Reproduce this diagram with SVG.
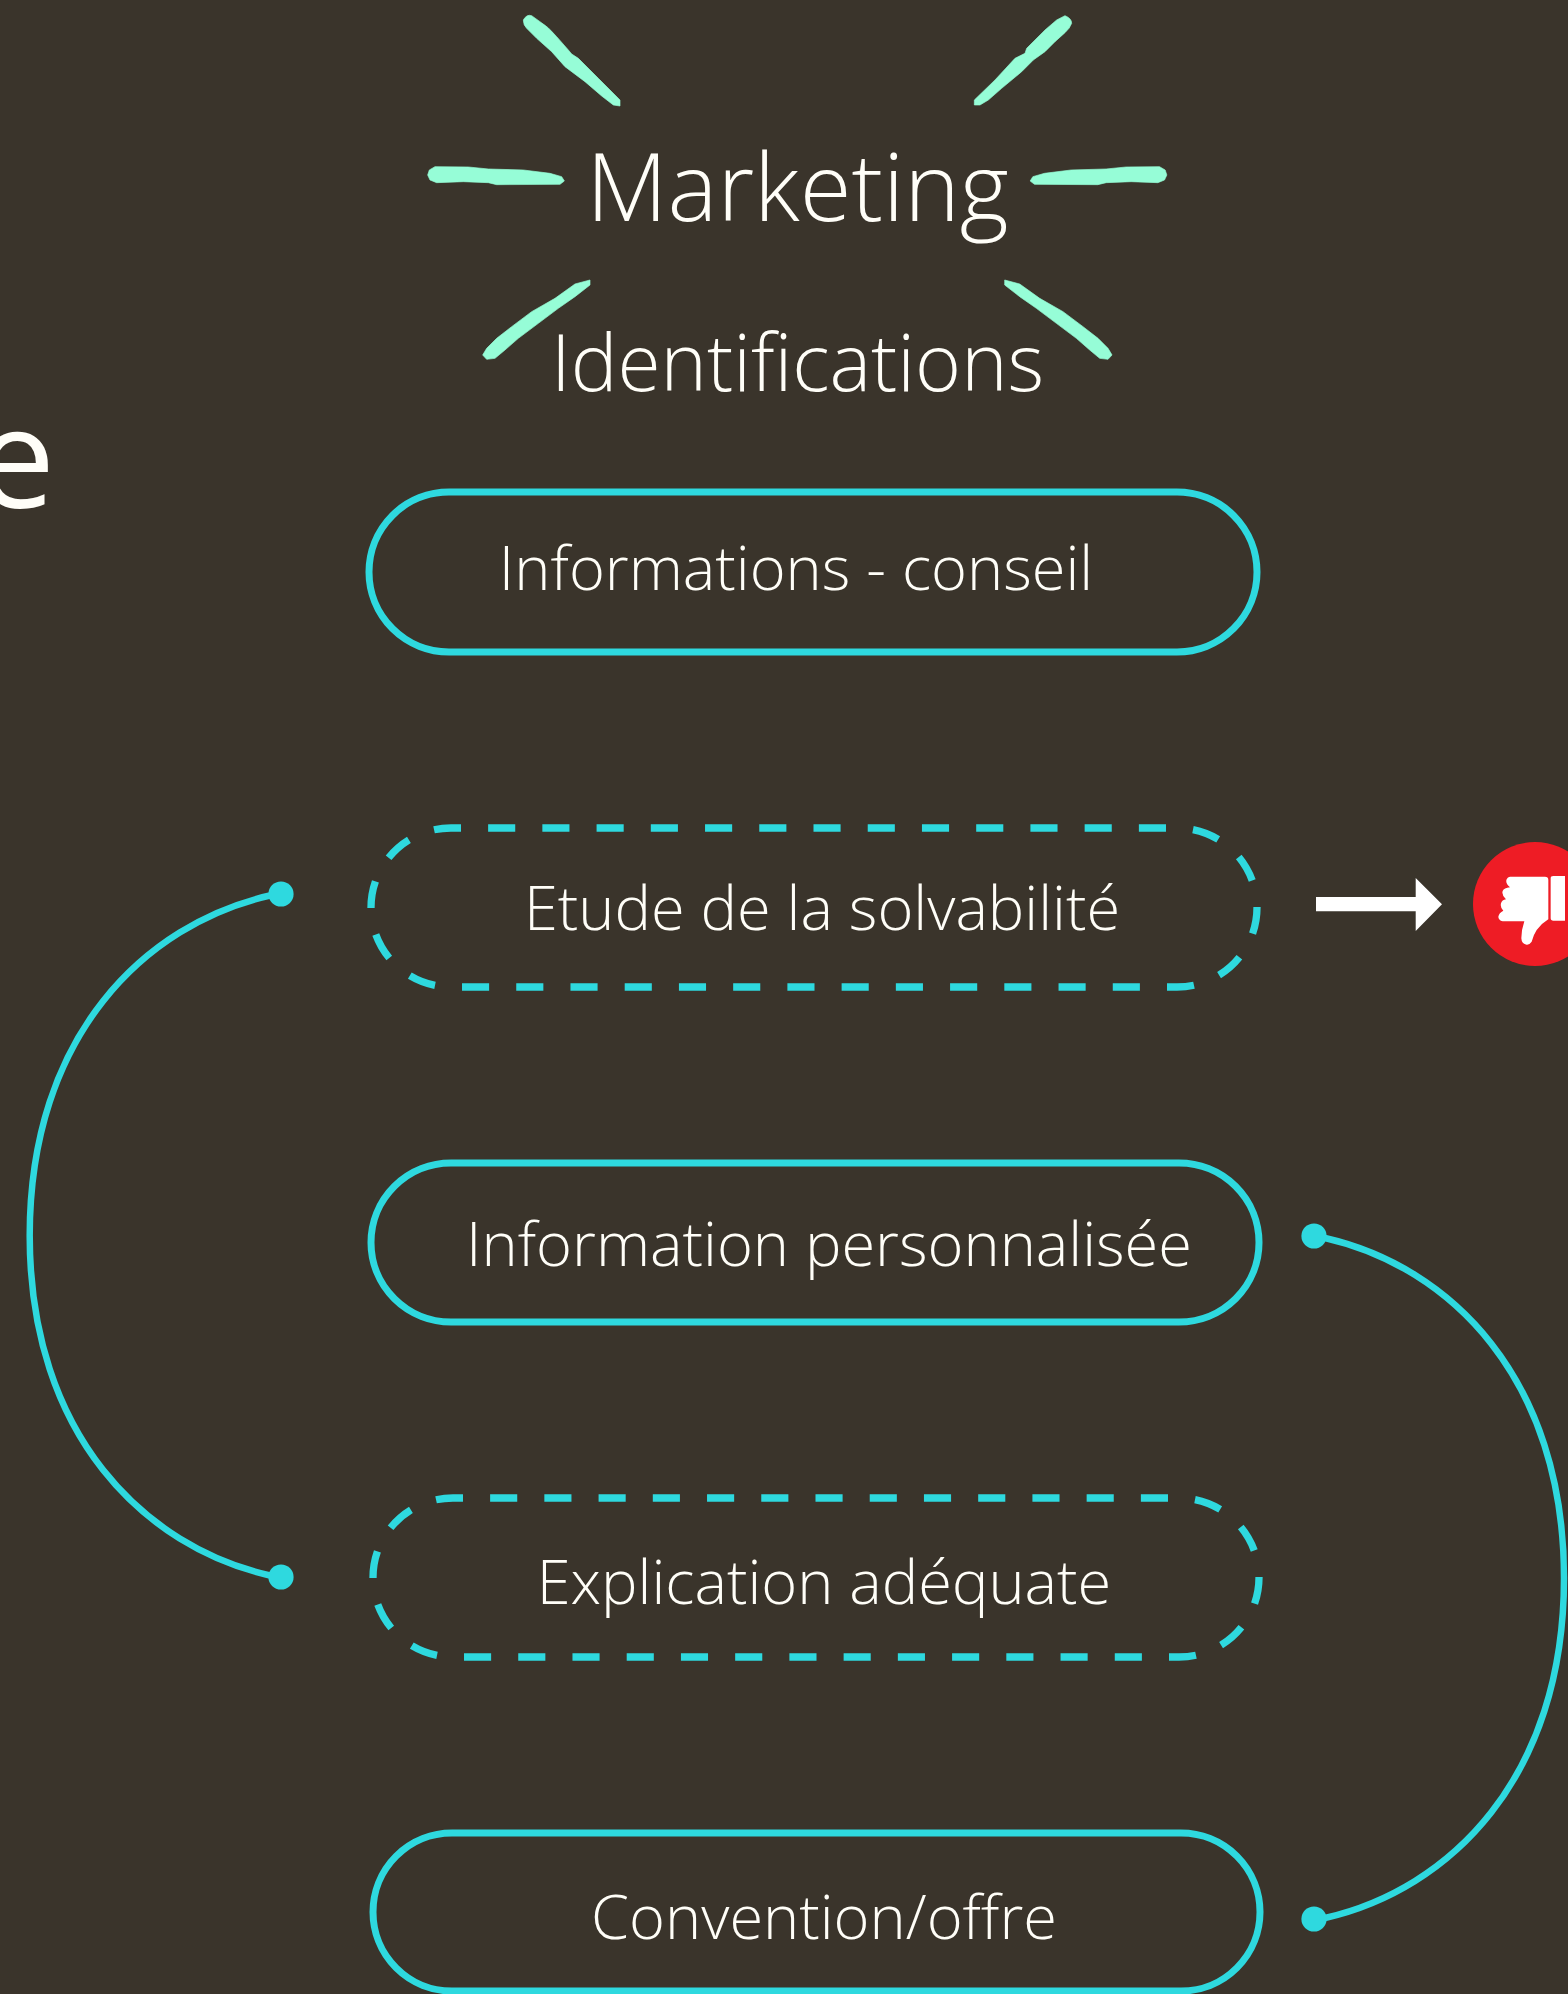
<svg xmlns="http://www.w3.org/2000/svg" width="1568" height="1994" viewBox="0 0 1568 1994">
<style>
text{font-family:"Open Sans","Noto Sans",sans-serif;font-weight:300;fill:#fffef8}
.lab{font-size:61.3px;text-anchor:middle}
.pill{fill:none;stroke:#2ed9df;stroke-width:7}
.dash{stroke-dasharray:0 27 27 0;stroke-width:7.3}
.conn{fill:none;stroke:#2ed9df;stroke-width:6.5}
.dot{fill:#2ed9df}
.ray{fill:#96fdd7;stroke:#96fdd7;stroke-width:2;stroke-linejoin:round}
</style>
<defs>
<path id="ray-left" class="ray" d="M45 35L145 36L205 42L310 45L390 55L425 65L433 78L420 88L230 89L205 83L130 80L50 83L30 75L23 60L28 45Z"/>
<path id="ray-low" class="ray" d="M345 30L345 45L300 80L250 115L190 160L130 205L90 240L60 265L35 268L23 255L35 235L65 205L110 170L170 125L240 85L300 42Z"/>
</defs>
<rect width="1568" height="1994" fill="#3a342b"/>
<g id="rays">
<path class="ray" transform="translate(515,10) scale(.33333)" d="M25 30Q35 12 50 17L75 35Q100 50 125 80L160 120L170 132L190 145L250 205L315 270L315 288L295 285L260 258L210 215L150 170L110 125L65 85L35 55Q25 45 25 30Z"/>
<path class="ray" transform="translate(965,10) scale(.33333)" d="M300 17Q320 25 320 40Q315 55 300 68L270 95L240 125L205 150L170 185L110 235L70 270L45 285L28 285L28 270L90 210L150 145L180 130L185 115L240 60L275 30Z"/>
<use href="#ray-left" transform="translate(420,155) scale(.33333)"/>
<use href="#ray-left" transform="translate(1174.5,155) scale(-.33333,.33333)"/>
<use href="#ray-low" transform="translate(475,270) scale(.33333)"/>
<use href="#ray-low" transform="translate(1119.7,270) scale(-.33333,.33333)"/>
</g>
<g id="title"><text x="797.5" y="221" font-size="94.2" text-anchor="middle">Marketing</text></g>
<g id="subtitle"><text x="797.5" y="391" font-size="78.5" text-anchor="middle">Identifications</text></g>
<g id="cut-text"><text x="55" y="508" font-size="140" text-anchor="end" style="font-weight:400">e</text></g>
<g id="node1"><rect class="pill" x="369" y="492" width="888" height="160" rx="80"/><text class="lab" x="796" y="590">Informations - conseil</text></g>
<g id="node2"><path class="pill dash" pathLength="1944" d="M461 828H1177A80 79.5 0 0 1 1177 987H451A80 79.5 0 0 1 451 828Z"/><text class="lab" x="822" y="930">Etude de la solvabilité</text></g>
<g id="node3"><rect class="pill" x="371" y="1163" width="888" height="159" rx="80"/><text class="lab" x="829" y="1265.5">Information personnalisée</text></g>
<g id="node4"><path class="pill dash" pathLength="1944" d="M463 1498H1179A80 79.5 0 0 1 1179 1657H453A80 79.5 0 0 1 453 1498Z"/><text class="lab" x="824" y="1603.5">Explication adéquate</text></g>
<g id="node5"><rect class="pill" x="373" y="1833" width="887" height="158" rx="79"/><text class="lab" x="824" y="1938.5">Convention/offre</text></g>
<g id="connectors">
<path class="conn" d="M281 894L270 895.5C145 924 29.7 1035.5 29.7 1235.5C29.7 1435.5 145 1547 270 1575.5L281 1577"/>
<circle class="dot" cx="281" cy="894" r="12.6"/><circle class="dot" cx="281" cy="1577" r="12.6"/>
<path class="conn" d="M1314 1236L1325 1238C1450 1266.5 1564 1378 1564 1578C1564 1778 1450 1889.5 1325 1918L1314 1919"/>
<circle class="dot" cx="1314" cy="1236" r="12.6"/><circle class="dot" cx="1314" cy="1919" r="12.6"/>
<path fill="#fff" d="M1316 897H1415.7V878L1442 904.3L1415.7 931V911.3H1316Z"/>
</g>
<g id="thumb-down">
<circle cx="1535" cy="904" r="62" fill="#ee1c25"/>
<path fill="#fff" transform="translate(1280,820) scale(.33333)" d="M690 170H795Q805 170 805 180V298Q785 310 770 330Q760 345 755 365Q748 375 740 374Q725 372 724 355Q724 330 733 304H668Q655 300 655 290Q657 278 670 272Q660 262 663 250Q666 240 678 238Q664 225 668 213Q672 204 690 202Q675 190 680 178Q683 170 690 170ZM820 168H855V302H820Q812 302 812 295V175Q812 168 820 168Z"/>
</g>
</svg>
